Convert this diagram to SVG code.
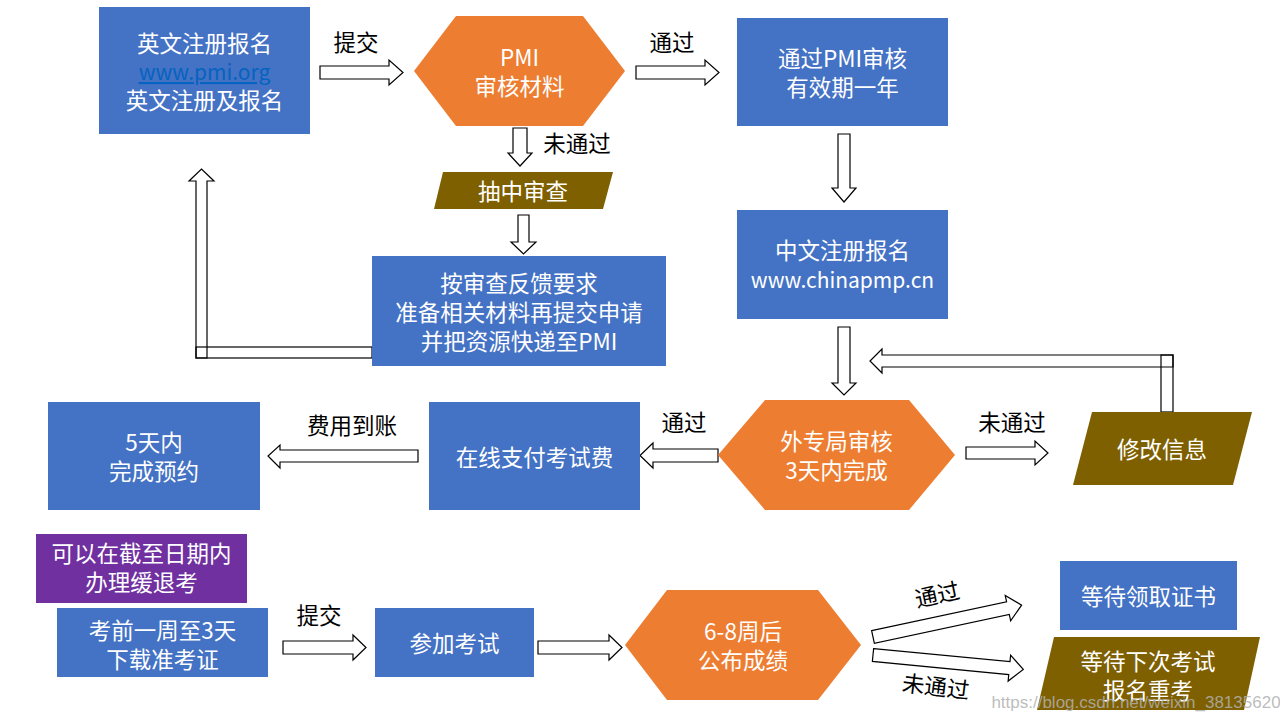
<svg xmlns="http://www.w3.org/2000/svg" width="1280" height="720" viewBox="0 0 1280 720">
<style>
.blue{fill:#4472C4}
.orange{fill:#ED7D31}
.brown{fill:#7F6000}
.purple{fill:#7030A0}
text{font-family:"Noto Sans CJK SC","Noto Sans",sans-serif;font-size:22.5px;text-anchor:middle;dominant-baseline:central}
.w{fill:#ffffff}
.k{fill:#000000}
.lat{font-size:21px}
.arr{fill:#ffffff;stroke:#000000;stroke-width:1.2;stroke-linejoin:miter}
.elb{fill:none;stroke:#000000;stroke-width:1.2}
</style>
<rect width="1280" height="720" fill="#ffffff"/>

<g id="connectors">
  <polygon class="arr" points="320,66 389,66 389,60 403,72.5 389,85 389,79 320,79"/>
  <polygon class="arr" points="636,66 705,66 705,60 719,72.5 705,85 705,79 636,79"/>
  <polygon class="arr" points="513,128 527,128 527,153 532,153 520,166 508,153 513,153"/>
  <polygon class="arr" points="518,215 529,215 529,242 536,242 523.5,254 511,242 518,242"/>
  <polygon class="arr" points="838,134 850,134 850,188 856,188 844,202 832,188 838,188"/>
  <polygon class="arr" points="838,327 850,327 850,383 856,383 844,395 832,383 838,383"/>
  <rect class="elb" x="196" y="347" width="176" height="11"/>
  <polygon class="elb" points="196,358 196,181 189,181 201.5,169 214,181 207,181 207,358"/>
  <rect class="elb" x="1161" y="355" width="12" height="57"/>
  <polygon class="elb" points="1173,355 882,355 882,349 870,361 882,373 882,367 1173,367"/>
  <polygon class="arr" points="718,449 653,449 653,443 640,455.5 653,468 653,462 718,462"/>
  <polygon class="arr" points="418,450 280,450 280,445 268,456 280,468 280,462 418,462"/>
  <polygon class="arr" points="966,447 1035,447 1035,441 1048,453 1035,465 1035,459 966,459"/>
  <polygon class="arr" points="283,641 353,641 353,635 366,647.5 353,660 353,654 283,654"/>
  <polygon class="arr" points="538,641 609,641 609,635 622,647.5 609,660 609,654 538,654"/>
  <polygon class="arr" transform="translate(873,637) rotate(-12.1)" points="0,-6.5 138,-6.5 138,-13 152,0 138,13 138,6.5 0,6.5"/>
  <polygon class="arr" transform="translate(873,655) rotate(5.5)" points="0,-6.5 137,-6.5 137,-13 151,0 137,13 137,6.5 0,6.5"/>
  <text class="k" x="356" y="41">提交</text>
  <text class="k" x="672" y="41">通过</text>
  <text class="k" x="577" y="142">未通过</text>
  <text class="k" x="684" y="421">通过</text>
  <text class="k" x="352" y="424">费用到账</text>
  <text class="k" x="1012" y="421">未通过</text>
  <text class="k" x="319" y="614">提交</text>
  <text class="k" x="937" y="593" transform="rotate(-12 937 593)">通过</text>
  <text class="k" x="936" y="685" transform="rotate(7 936 685)">未通过</text>
</g>

<g id="n-en-register">
  <rect class="blue" x="99" y="7" width="211" height="127"/>
  <text class="w" x="204.5" y="42">英文注册报名</text>
  <text class="lat" x="204.5" y="71" fill="#0563C1" text-decoration="underline">www.pmi.org</text>
  <text class="w" x="204.5" y="99">英文注册及报名</text>
</g>

<g id="n-pmi-review">
  <polygon class="orange" points="414,71 456,16 583,16 625,71 583,126 456,126"/>
  <text class="w" x="519.5" y="56">PMI</text>
  <text class="w" x="519.5" y="85">审核材料</text>
</g>

<g id="n-pmi-pass">
  <rect class="blue" x="737" y="18" width="211" height="108"/>
  <text class="w" x="842.5" y="57">通过PMI审核</text>
  <text class="w" x="842.5" y="86">有效期一年</text>
</g>

<g id="n-audit">
  <polygon class="brown" points="443,172 613,172 603,209 434,209"/>
  <text class="w" x="523" y="190">抽中审查</text>
</g>

<g id="n-resubmit">
  <rect class="blue" x="372" y="256" width="294" height="110"/>
  <text class="w" x="519" y="282">按审查反馈要求</text>
  <text class="w" x="519" y="311">准备相关材料再提交申请</text>
  <text class="w" x="519" y="340">并把资源快递至PMI</text>
</g>

<g id="n-cn-register">
  <rect class="blue" x="737" y="210" width="211" height="109"/>
  <text class="w" x="842.5" y="249">中文注册报名</text>
  <text class="w lat" x="842.5" y="279">www.chinapmp.cn</text>
</g>

<g id="n-cn-review">
  <polygon class="orange" points="718,455 765,400 909,400 955,455 909,510 765,510"/>
  <text class="w" x="836.5" y="440">外专局审核</text>
  <text class="w" x="836.5" y="469">3天内完成</text>
</g>

<g id="n-modify">
  <polygon class="brown" points="1092,412 1252,412 1233,485 1073,485"/>
  <text class="w" x="1162" y="448">修改信息</text>
</g>

<g id="n-pay">
  <rect class="blue" x="429" y="402" width="211" height="108"/>
  <text class="w" x="534.5" y="456">在线支付考试费</text>
</g>

<g id="n-booking">
  <rect class="blue" x="48" y="402" width="212" height="108"/>
  <text class="w" x="154" y="441">5天内</text>
  <text class="w" x="154" y="470">完成预约</text>
</g>

<g id="n-defer">
  <rect class="purple" x="36" y="534" width="211" height="69"/>
  <text class="w" x="141.5" y="552">可以在截至日期内</text>
  <text class="w" x="141.5" y="581">办理缓退考</text>
</g>

<g id="n-ticket">
  <rect class="blue" x="57" y="608" width="211" height="69"/>
  <text class="w" x="162.5" y="629">考前一周至3天</text>
  <text class="w" x="162.5" y="658">下载准考证</text>
</g>

<g id="n-exam">
  <rect class="blue" x="375" y="608" width="159" height="69"/>
  <text class="w" x="454.5" y="642">参加考试</text>
</g>

<g id="n-result">
  <polygon class="orange" points="625,645 667,590 818,590 861,645 818,700 667,700"/>
  <text class="w" x="743" y="630">6-8周后</text>
  <text class="w" x="743" y="659">公布成绩</text>
</g>

<g id="n-certificate">
  <rect class="blue" x="1060" y="561" width="177" height="69"/>
  <text class="w" x="1148.5" y="595">等待领取证书</text>
</g>

<g id="n-retake">
  <polygon class="brown" points="1054,637 1260,637 1244,710 1037,710"/>
  <text class="w" x="1148" y="660">等待下次考试</text>
  <text class="w" x="1148" y="689">报名重考</text>
</g>

<text x="1136" y="702" style="font-family:'Liberation Sans',sans-serif;font-size:17px" fill="#b0b0b0" fill-opacity="0.85">https://blog.csdn.net/weixin_38135620</text>
</svg>
